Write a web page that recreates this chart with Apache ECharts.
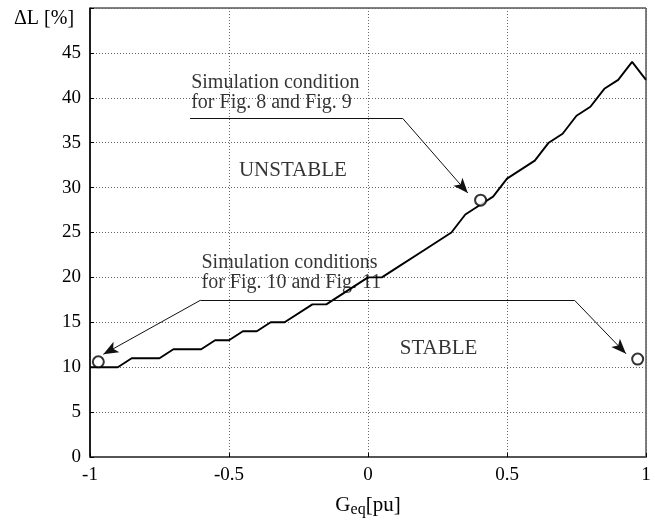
<!DOCTYPE html>
<html>
<head>
<meta charset="utf-8">
<script src="https://cdn.jsdelivr.net/npm/echarts@6/dist/echarts.min.js"></script>
<style>
html,body{margin:0;padding:0;background:#fff;}
#c{width:655px;height:527px;}
</style>
</head>
<body>
<div id="c"></div>
<script>
// ---- data ----
var geq = [-1, -0.9, -0.85, -0.75, -0.7, -0.6, -0.55, -0.5, -0.45, -0.4, -0.35, -0.3, -0.2, -0.15, -0.1, -0.05, 0, 0.05, 0.1, 0.2, 0.3, 0.35, 0.4, 0.45, 0.5, 0.6, 0.65, 0.7, 0.75, 0.8, 0.85, 0.9, 0.95, 1];
var deltaL = [10, 10, 11, 11, 12, 12, 13, 13, 14, 14, 15, 15, 17, 17, 18, 19, 20, 20, 21, 23, 25, 27, 28, 29, 31, 33, 35, 36, 38, 39, 41, 42, 44, 42];
var condX = [-0.97, 0.405, 0.97];
var condY = [10.6, 28.6, 10.9];
var xTicks = [-1, -0.5, 0, 0.5, 1];
var yTicks = [0, 5, 10, 15, 20, 25, 30, 35, 40, 45];
var regionLabels = ['UNSTABLE', 'STABLE'];
var noteTexts = ['Simulation condition\nfor Fig. 8 and Fig. 9', 'Simulation conditions\nfor Fig. 10 and Fig. 11'];

var boundary = geq.map(function (x, i) { return [x, deltaL[i]]; });
var conds = condX.map(function (x, i) { return [x, condY[i]]; });

// annotation geometry (data coordinates)
var regionPos = [[-0.27, 31.9], [0.254, 12.1]];
var notePos = [[-0.636, 40.6], [-0.599, 20.5]];
var leaders = [
  [[-0.64, 37.7], [0.125, 37.7], [0.359, 29.4]],
  [[-0.952, 11.44], [-0.603, 17.45], [0.743, 17.45], [0.928, 11.5]]
];

var FONT = 'Liberation Serif';
var chart = echarts.init(document.getElementById('c'), null, {renderer: 'canvas'});

function seg(a, b, arrowEnd) {
  return [{coord: a, symbol: 'none'}, {coord: b, symbol: arrowEnd ? 'arrow' : 'none', symbolSize: [9, 15]}];
}
var mlData = [];
mlData.push(seg(leaders[0][0], leaders[0][1], false));
mlData.push(seg(leaders[0][1], leaders[0][2], true));
mlData.push(seg(leaders[1][1], leaders[1][0], true));
mlData.push(seg(leaders[1][1], leaders[1][2], false));
mlData.push(seg(leaders[1][2], leaders[1][3], true));

var option = {
  animation: false,
  backgroundColor: '#fff',
  grid: {left: 90, right: 9, top: 8, bottom: 70, show: true, borderColor: '#000', borderWidth: 1, backgroundColor: 'transparent'},
  xAxis: {
    type: 'value', min: -1, max: 1, interval: 0.5,
    name: '{g|G}{s|eq}{g|[pu]}', nameLocation: 'middle', nameGap: 36,
    nameTextStyle: {rich: {
      g: {fontFamily: FONT, fontSize: 21, color: '#000'},
      s: {fontFamily: FONT, fontSize: 16, color: '#000', padding: [9, 0, 0, 0]}
    }},
    axisLine: {show: true, onZero: false, lineStyle: {color: '#555', width: 2}},
    axisTick: {show: true, inside: true, length: 4, lineStyle: {color: '#000'}},
    axisLabel: {fontFamily: FONT, fontSize: 19, color: '#000', margin: 9,
      formatter: function (v) { return xTicks.indexOf(v) >= 0 ? String(v) : ''; }},
    splitLine: {show: true, lineStyle: {color: '#666', type: [1, 2], width: 1}}
  },
  yAxis: {
    type: 'value', min: 0, max: 50, interval: 5,
    axisLine: {show: true, onZero: false, lineStyle: {color: '#000', width: 1.5}},
    axisTick: {show: true, inside: true, length: 4, lineStyle: {color: '#000'}},
    axisLabel: {fontFamily: FONT, fontSize: 19, color: '#000', margin: 9,
      formatter: function (v) { return yTicks.indexOf(v) >= 0 ? String(v) : ''; }},
    splitLine: {show: true, lineStyle: {color: '#666', type: [1, 2], width: 1}}
  },
  graphic: [{
    type: 'text', left: 14, top: 9,
    style: {text: 'ΔL [%]', fontFamily: FONT, fontSize: 20, fill: '#000'}
  }],
  series: [
    {
      type: 'line', data: boundary, symbol: 'none',
      lineStyle: {color: '#000', width: 1.9}, z: 3,
      markLine: {
        silent: true, animation: false, label: {show: false},
        lineStyle: {color: '#111', width: 1, type: 'solid'},
        data: mlData
      }
    },
    {
      type: 'scatter', data: conds, symbol: 'circle', symbolSize: 11,
      itemStyle: {color: '#fff', borderColor: '#000', borderWidth: 2}, z: 5
    },
    {
      type: 'scatter', symbolSize: 0, silent: true,
      data: regionLabels.map(function (t, i) { return {name: t, value: regionPos[i]}; }),
      label: {show: true, position: 'inside', formatter: '{b}', fontFamily: FONT, fontSize: 21, color: '#000'}
    },
    {
      type: 'scatter', symbolSize: 0, silent: true,
      data: noteTexts.map(function (t, i) { return {name: t, value: notePos[i]}; }),
      label: {show: true, position: 'right', distance: 0, align: 'left', verticalAlign: 'middle',
        formatter: '{b}', fontFamily: FONT, fontSize: 20, lineHeight: 20, color: '#000'}
    }
  ]
};
chart.setOption(option);
</script>
</body>
</html>
